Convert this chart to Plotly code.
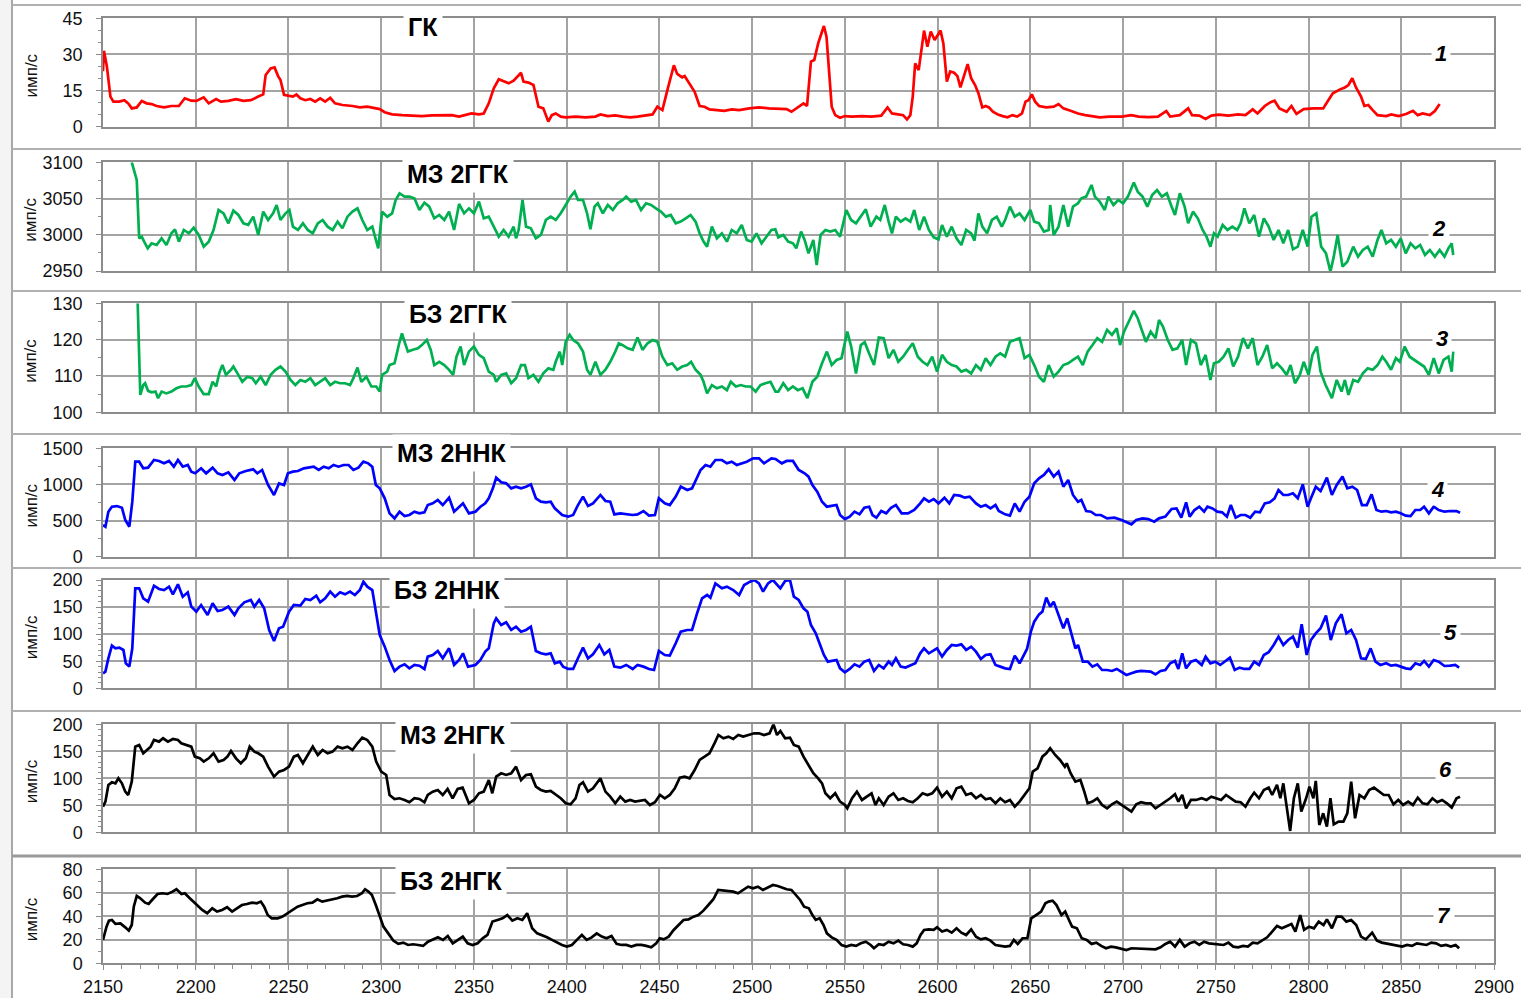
import plotly.graph_objects as go

# ---------------------------------------------------------------- data
# ГК (гамма-каротаж)
GK_DEPTH = [2150.0, 2150.5, 2152.1, 2154.0, 2155.6, 2158.8, 2161.5, 2163.6, 2165.5, 2168.2, 2170.9, 2173.5, 2176.2,
            2178.9, 2182.9, 2186.9, 2190.9, 2194.1, 2197.6, 2200.3, 2204.3, 2207.0, 2211.0, 2213.6, 2217.6, 2221.7,
            2225.7, 2229.7, 2233.7, 2236.4, 2237.7, 2240.4, 2242.5, 2244.4, 2245.7, 2247.6, 2249.7, 2252.4, 2254.3,
            2256.4, 2259.1, 2261.8, 2264.4, 2267.1, 2269.8, 2272.5, 2275.1, 2279.1, 2284.5, 2288.5, 2292.5, 2296.5,
            2299.2, 2301.9, 2305.9, 2311.2, 2316.6, 2321.9, 2327.3, 2332.6, 2338.0, 2342.0, 2344.7, 2348.7, 2352.7,
            2355.3, 2358.0, 2360.7, 2363.4, 2366.0, 2368.7, 2371.4, 2374.1, 2375.4, 2376.7, 2379.4, 2382.1, 2384.8,
            2387.4, 2388.8, 2390.1, 2392.0, 2394.1, 2396.8, 2399.5, 2404.8, 2410.2, 2415.5, 2418.2, 2422.2, 2426.2,
            2430.2, 2434.2, 2438.2, 2442.2, 2446.3, 2448.9, 2451.6, 2454.3, 2457.8, 2459.6, 2462.3, 2463.6, 2466.3,
            2469.0, 2471.7, 2474.3, 2477.0, 2481.0, 2485.0, 2489.0, 2493.0, 2498.4, 2503.7, 2509.1, 2514.7, 2518.6,
            2521.2, 2525.1, 2527.7, 2529.6, 2531.7, 2533.5, 2535.6, 2537.4, 2538.7, 2540.1, 2541.6, 2542.9, 2544.8,
            2547.4, 2550.0, 2553.9, 2559.2, 2564.4, 2569.6, 2573.0, 2575.4, 2578.8, 2581.4, 2583.5, 2585.3, 2586.6,
            2587.9, 2589.8, 2591.4, 2592.7, 2594.5, 2596.3, 2598.4, 2599.7, 2601.6, 2603.1, 2605.0, 2606.8, 2608.9,
            2610.7, 2612.3, 2614.1, 2616.2, 2618.1, 2620.2, 2622.0, 2624.1, 2625.9, 2627.7, 2629.8, 2632.5, 2635.1,
            2637.7, 2640.3, 2642.9, 2645.5, 2647.4, 2649.0, 2650.8, 2652.6, 2654.7, 2658.6, 2662.6, 2665.2, 2667.8,
            2671.7, 2675.7, 2679.6, 2683.5, 2687.4, 2692.7, 2699.2, 2704.5, 2708.4, 2713.6, 2718.8, 2723.3, 2725.4,
            2730.6, 2735.1, 2737.2, 2741.1, 2744.5, 2747.6, 2751.6, 2756.8, 2762.0, 2766.0, 2769.9, 2772.5, 2776.4,
            2779.1, 2781.7, 2784.3, 2788.2, 2790.8, 2793.5, 2797.4, 2802.6, 2807.9, 2810.5, 2813.1, 2817.0, 2819.6,
            2821.5, 2823.6, 2825.6, 2828.3, 2830.1, 2832.2, 2834.6, 2837.2, 2841.9, 2844.6, 2848.6, 2852.6, 2856.3,
            2858.9, 2861.5, 2865.4, 2868.1, 2870.7]
GK = [23, 31.5, 25, 12.5, 10.4, 10.4, 11, 9.7, 7.6, 8, 10.7, 9.7, 9.4,
      8.6, 8, 8.6, 8.6, 11.8, 10.8, 10.7, 12.2, 9.7, 11.5, 10.4, 10.7, 11.4,
      10.7, 11, 12.5, 13.4, 21.5, 24.2, 24.6, 21, 19.4, 13.2, 12.9, 12.5, 13.4,
      11.8, 11, 11.5, 10.4, 11.8, 10.4, 12, 9.7, 9, 8.6, 8, 8.3, 7.6,
      7.3, 6, 5.1, 4.8, 4.6, 4.4, 4.7, 4.6, 4.8, 4.2, 4.8, 5.5, 5.1,
      5.5, 9.7, 15.9, 19.7, 18.7, 18, 19.1, 21.5, 22.4, 18.7, 18.3, 17.3, 8.3,
      7.6, 4.8, 2.1, 4.8, 5.5, 4.2, 3.9, 4.2, 3.9, 4.2, 5.1, 4.4, 4.7,
      4.2, 3.9, 4.2, 4.8, 5.1, 8.3, 6.9, 15.2, 25.5, 21.9, 20.5, 21, 18,
      14.5, 8.6, 8.3, 7.2, 6.9, 6.6, 7.2, 6.9, 7.6, 8, 7.6, 7.3, 7.3,
      6.2, 8.3, 9.7, 8.6, 27, 27.7, 34.6, 38.8, 41.8, 37.4, 20.8, 8.3, 4.8,
      3.7, 4.4, 4.2, 4.4, 4.2, 4.6, 8, 5.5, 5.1, 4.8, 3, 4.8, 12.5,
      26.3, 23.5, 31.9, 39.9, 33.2, 39.5, 36, 37.4, 39.9, 34.6, 18.7, 22.9, 22.4,
      21, 16.3, 20.8, 26, 20.1, 17.3, 13.9, 8, 8.6, 8, 6.2, 5.1, 4.4,
      3.9, 4.8, 4.2, 5.5, 10.4, 11, 13.4, 10.4, 8.6, 8, 8.3, 9.4, 7.6,
      6.6, 5.5, 4.8, 4.4, 3.9, 4.2, 4.2, 4.8, 4.2, 4.0, 4.2, 6.5, 4.2,
      4.8, 7.6, 4.8, 4.6, 3.2, 4.6, 5.0, 4.6, 5.1, 4.8, 7.2, 5.5, 8.6,
      10, 10.8, 7.6, 6.2, 8.6, 5.3, 7.3, 7.6, 7.6, 10.8, 13.9, 15.5, 16.3,
      17.3, 20.1, 16.3, 12.5, 8.6, 9, 6.9, 4.8, 4.4, 5.1, 4.4, 5.3, 6.6,
      4.8, 5.5, 4.8, 6.5, 9.4]

# МЗ 2ГГК
MZ_GGK_DEPTH = [2165.5, 2166.8, 2168.2, 2169.5, 2170.9, 2172.2, 2174.1, 2176.2, 2178.9, 2181.6, 2184.2, 2186.9,
                2188.8, 2190.9, 2193.6, 2196.3, 2198.9, 2201.6, 2204.3, 2207.0, 2209.6, 2212.3, 2215.0, 2217.6,
                2220.3, 2223.0, 2225.7, 2228.3, 2231.0, 2233.7, 2236.4, 2239.0, 2241.7, 2243.6, 2245.7, 2248.4,
                2250.5, 2252.4, 2255.1, 2257.8, 2260.4, 2263.1, 2265.8, 2268.4, 2271.1, 2273.8, 2276.5, 2279.1,
                2281.8, 2284.5, 2287.2, 2289.8, 2292.5, 2295.2, 2297.1, 2298.4, 2300.5, 2303.2, 2305.9, 2307.8,
                2309.9, 2312.6, 2315.2, 2317.9, 2320.6, 2323.3, 2325.9, 2328.6, 2331.3, 2334.0, 2336.6, 2339.3,
                2342.0, 2344.7, 2347.3, 2350.0, 2352.7, 2355.3, 2358.0, 2360.7, 2363.4, 2366.0, 2368.7, 2371.4,
                2372.7, 2374.1, 2376.2, 2378.1, 2380.7, 2383.4, 2386.1, 2388.8, 2391.4, 2394.1, 2396.8, 2399.5,
                2402.1, 2404.3, 2406.1, 2408.8, 2411.0, 2412.8, 2415.0, 2416.8, 2419.5, 2422.2, 2424.9, 2427.5,
                2430.2, 2432.1, 2434.8, 2437.4, 2440.1, 2442.8, 2445.5, 2448.1, 2450.8, 2453.5, 2456.1, 2458.8,
                2461.5, 2464.2, 2466.8, 2469.5, 2471.7, 2473.8, 2475.7, 2478.3, 2481.0, 2483.7, 2486.4, 2489.0,
                2491.7, 2494.4, 2497.1, 2499.7, 2502.4, 2505.1, 2507.8, 2510.4, 2512.5, 2514.1, 2516.8, 2519.4,
                2522.0, 2523.8, 2526.4, 2528.3, 2530.4, 2533.0, 2534.8, 2536.9, 2539.5, 2542.1, 2544.8, 2547.4,
                2550.8, 2553.4, 2556.0, 2558.6, 2561.3, 2563.9, 2567.0, 2569.1, 2571.5, 2573.6, 2575.4, 2577.5,
                2580.1, 2582.7, 2585.3, 2587.4, 2590.1, 2592.7, 2595.3, 2597.9, 2600.5, 2602.4, 2605.0, 2607.6,
                2610.2, 2612.8, 2615.4, 2618.1, 2619.9, 2622.0, 2624.1, 2626.7, 2629.3, 2631.9, 2634.6, 2636.4,
                2639.0, 2641.6, 2644.2, 2646.9, 2650.0, 2652.1, 2654.7, 2657.3, 2659.9, 2660.7, 2662.6, 2665.2,
                2667.8, 2670.4, 2673.0, 2675.7, 2677.5, 2680.1, 2683.0, 2684.8, 2687.4, 2690.1, 2692.1, 2694.8,
                2697.4, 2700.0, 2702.6, 2705.8, 2707.9, 2710.5, 2713.1, 2715.7, 2718.3, 2720.9, 2723.6, 2726.2,
                2728.0, 2730.6, 2733.2, 2735.1, 2737.7, 2740.3, 2742.9, 2745.0, 2747.1, 2749.0, 2751.0, 2753.7,
                2756.3, 2758.9, 2761.5, 2763.4, 2765.4, 2768.1, 2770.7, 2773.3, 2775.9, 2778.5, 2781.2, 2783.8,
                2786.4, 2789.0, 2791.6, 2794.2, 2796.9, 2799.5, 2801.6, 2804.2, 2806.8, 2809.4, 2811.8, 2813.6,
                2815.7, 2818.3, 2820.9, 2824.1, 2826.7, 2829.3, 2831.9, 2834.6, 2837.2, 2839.3, 2841.9, 2844.5,
                2847.1, 2849.7, 2852.4, 2855.0, 2857.6, 2860.2, 2862.8, 2865.4, 2868.1, 2870.7, 2873.3, 2875.4,
                2877.2, 2878.0]
MZ_GGK = [3100, 3088.5, 3075.6, 2995.1, 2997.4, 2990.5, 2981.3, 2988.2, 2985.9, 2995.1, 2985.9, 3002.0,
          3007.5, 2990.5, 3006.6, 3002.0, 3009.8, 2999.7, 2983.6, 2990.5, 3006.6, 3034.2, 3029.6, 3015.8,
          3033.3, 3027.3, 3015.8, 3013.5, 3025.0, 2999.7, 3031.9, 3020.4, 3029.6, 3041.1, 3020.4, 3029.6,
          3034.2, 3011.2, 3006.6, 3015.8, 3006.6, 3002.0, 3015.8, 3020.4, 3011.2, 3006.6, 3018.1, 3008.9,
          3025.0, 3031.9, 3036.5, 3020.4, 3006.6, 3011.2, 2992.8, 2981.3, 3031.9, 3025.0, 3029.6, 3048.0,
          3057.2, 3052.6, 3052.6, 3050.3, 3034.2, 3044.3, 3038.8, 3022.7, 3027.3, 3020.4, 3031.9, 3006.6,
          3042.5, 3029.6, 3036.5, 3029.6, 3045.7, 3022.7, 3025.0, 3011.2, 2997.4, 3006.6, 2997.4, 3011.2,
          2995.1, 3006.6, 3048.0, 3011.2, 3008.9, 2995.1, 2999.7, 3020.4, 3025.0, 3020.4, 3029.6, 3041.1,
          3052.6, 3059.5, 3048.0, 3048.0, 3029.6, 3007.5, 3038.8, 3043.4, 3029.6, 3041.1, 3034.2, 3043.4,
          3048.0, 3052.6, 3045.7, 3048.0, 3034.2, 3043.4, 3041.1, 3036.5, 3031.9, 3025.0, 3027.3, 3015.8,
          3018.1, 3022.7, 3027.3, 3018.1, 3002.0, 2990.5, 2983.6, 3011.2, 2995.1, 3002.0, 2990.5, 3006.6,
          3002.0, 3013.5, 2992.8, 2990.5, 3002.0, 2988.2, 2997.4, 3006.6, 3007.5, 2996.5, 2999.7, 2990.5,
          2988.2, 2981.3, 3004.3, 2992.8, 2974.4, 2992.8, 2958.3, 2999.7, 3006.6, 3004.3, 3006.6, 2997.4,
          3034.2, 3020.4, 3015.8, 3025.0, 3035.1, 3011.2, 3025.0, 3020.4, 3041.1, 3018.1, 3002.0, 3025.0,
          3018.1, 3022.7, 3018.1, 3034.2, 3006.6, 3025.0, 3006.6, 2996.5, 2993.7, 3013.5, 2997.4, 3011.2,
          2995.1, 2985.9, 3006.6, 3002.0, 2991.9, 3029.6, 3011.2, 3002.0, 3020.4, 3025.0, 3011.2, 3020.4,
          3038.8, 3025.0, 3029.6, 3020.4, 3034.2, 3018.1, 3015.8, 3004.3, 3006.6, 3041.1, 2999.7, 3011.2,
          3041.1, 3011.2, 3038.8, 3043.4, 3050.3, 3052.6, 3068.7, 3052.6, 3045.7, 3034.2, 3052.6, 3041.1,
          3048.0, 3043.4, 3052.6, 3072.0, 3059.5, 3052.6, 3038.8, 3054.9, 3061.8, 3052.6, 3057.2, 3038.8,
          3027.3, 3057.2, 3038.8, 3015.8, 3031.9, 3022.7, 3006.6, 2997.4, 2983.6, 3002.0, 2997.4, 3013.5,
          3006.6, 3011.2, 3006.6, 3015.8, 3036.5, 3015.8, 3027.3, 2997.4, 3022.7, 3011.2, 2992.8, 3006.6,
          2988.2, 3006.6, 2979.9, 2983.6, 3006.6, 2983.6, 3025.0, 3029.6, 2983.6, 2974.4, 2949.1, 2969.8,
          2999.7, 2956.0, 2962.9, 2983.6, 2969.8, 2979.0, 2983.6, 2969.8, 2992.8, 3006.6, 2988.2, 2992.8,
          2983.6, 2995.1, 2974.4, 2988.2, 2981.3, 2985.9, 2972.1, 2979.0, 2969.8, 2979.0, 2969.8, 2981.3,
          2988.2, 2972.1]

# БЗ 2ГГК
BZ_GGK_DEPTH = [2168.7, 2170.1, 2171.7, 2172.7, 2174.3, 2176.2, 2178.3, 2179.7, 2181.6, 2184.2, 2186.9, 2189.6,
                2192.2, 2194.9, 2197.6, 2199.5, 2201.6, 2204.3, 2207.0, 2209.1, 2211.0, 2212.8, 2214.4, 2216.3,
                2219.0, 2220.3, 2222.5, 2225.1, 2227.8, 2230.5, 2232.4, 2235.0, 2237.7, 2240.4, 2243.0, 2245.7,
                2248.4, 2251.1, 2253.7, 2256.4, 2259.1, 2261.8, 2264.4, 2267.1, 2269.8, 2272.5, 2275.1, 2277.8,
                2280.5, 2283.2, 2285.0, 2287.2, 2289.3, 2292.0, 2294.7, 2297.3, 2299.2, 2300.5, 2303.2, 2304.5,
                2307.2, 2309.9, 2311.2, 2312.6, 2314.4, 2317.1, 2319.8, 2321.9, 2324.6, 2326.7, 2328.6, 2331.3,
                2334.0, 2336.6, 2338.8, 2340.6, 2342.8, 2344.7, 2347.3, 2350.0, 2352.7, 2355.3, 2358.0, 2360.7,
                2362.0, 2364.7, 2367.4, 2370.1, 2372.7, 2375.4, 2377.5, 2379.4, 2382.1, 2384.8, 2387.4, 2390.1,
                2392.8, 2394.1, 2396.3, 2397.6, 2399.5, 2401.6, 2403.5, 2406.1, 2408.8, 2411.0, 2412.8, 2415.5,
                2418.2, 2420.9, 2423.5, 2426.2, 2428.1, 2430.2, 2432.9, 2435.6, 2438.2, 2440.9, 2443.6, 2446.3,
                2448.9, 2451.6, 2454.3, 2456.9, 2459.6, 2462.3, 2465.0, 2467.1, 2469.5, 2472.2, 2473.8, 2475.7,
                2478.3, 2481.0, 2483.7, 2486.4, 2488.5, 2491.2, 2493.9, 2496.5, 2499.2, 2501.9, 2504.5, 2507.2,
                2509.9, 2512.6, 2514.1, 2516.8, 2519.4, 2522.0, 2524.6, 2527.2, 2529.8, 2532.5, 2535.1, 2537.7,
                2540.3, 2542.9, 2545.5, 2548.2, 2551.3, 2553.4, 2556.0, 2558.6, 2560.7, 2563.1, 2565.7, 2568.3,
                2570.9, 2573.6, 2576.2, 2578.8, 2581.4, 2584.0, 2586.6, 2589.3, 2591.9, 2594.5, 2597.1, 2599.7,
                2602.4, 2605.0, 2607.6, 2610.2, 2612.8, 2615.4, 2618.1, 2620.7, 2623.3, 2625.9, 2628.5, 2631.2,
                2633.8, 2636.4, 2639.0, 2641.6, 2644.2, 2646.9, 2649.5, 2652.1, 2654.7, 2657.3, 2659.9, 2662.6,
                2665.2, 2667.8, 2670.4, 2673.0, 2675.7, 2678.3, 2680.9, 2683.5, 2686.1, 2688.7, 2691.4, 2694.0,
                2696.6, 2698.4, 2700.5, 2703.1, 2705.8, 2707.9, 2710.5, 2712.3, 2714.9, 2717.5, 2719.4, 2721.5,
                2724.1, 2726.7, 2729.3, 2731.9, 2734.0, 2736.6, 2739.3, 2741.9, 2744.5, 2747.1, 2749.0, 2751.6,
                2754.2, 2756.8, 2759.4, 2762.0, 2764.7, 2767.3, 2769.9, 2772.5, 2775.1, 2777.7, 2780.4, 2783.0,
                2785.6, 2788.2, 2790.3, 2792.7, 2795.3, 2797.4, 2800.0, 2802.1, 2804.5, 2806.5, 2809.2, 2812.6,
                2815.2, 2817.8, 2819.6, 2821.5, 2824.1, 2826.7, 2829.3, 2831.9, 2834.6, 2837.2, 2839.8, 2841.9,
                2844.5, 2847.1, 2849.2, 2851.8, 2854.5, 2857.1, 2859.7, 2862.3, 2864.9, 2867.5, 2870.2, 2872.8,
                2875.4, 2877.2, 2878.0]
BZ_GGK = [130, 104.8, 107.5, 108.0, 105.9, 105.5, 105.7, 103.9, 105.7, 105.2, 105.7, 106.6,
          107.1, 107.1, 107.5, 109.4, 107.1, 105.0, 105.0, 108.4, 107.1, 111.0, 113.0, 110.3,
          111.7, 112.6, 110.7, 108.4, 109.8, 109.4, 108.0, 109.8, 107.5, 110.3, 111.7, 112.6,
          111.2, 108.9, 107.5, 108.9, 108.4, 109.4, 107.5, 108.4, 109.4, 107.5, 108.4, 108.0,
          108.0, 107.5, 109.4, 112.3, 108.4, 109.8, 107.1, 107.1, 105.7, 110.3, 111.2, 113.0,
          113.5, 119.4, 121.7, 119.4, 116.7, 117.2, 117.6, 118.5, 119.9, 117.2, 113.0, 113.9,
          113.0, 111.7, 110.3, 115.3, 118.1, 113.0, 116.7, 118.1, 115.8, 114.9, 111.2, 110.3,
          108.4, 110.3, 110.7, 108.0, 109.4, 113.0, 113.0, 109.4, 110.3, 108.4, 110.7, 112.1,
          111.7, 113.9, 116.7, 113.0, 119.4, 121.3, 119.9, 119.0, 116.7, 111.7, 110.3, 113.9,
          110.3, 111.7, 113.9, 116.7, 119.0, 118.5, 117.6, 117.2, 120.6, 117.2, 119.0, 119.9,
          119.4, 115.3, 113.0, 113.5, 111.7, 112.6, 113.0, 113.9, 111.7, 110.3, 108.4, 105.2,
          107.5, 106.6, 107.1, 106.1, 108.4, 107.1, 107.5, 107.1, 107.1, 105.7, 107.5, 108.0,
          108.4, 105.7, 105.7, 108.0, 106.1, 107.1, 106.1, 106.6, 103.9, 108.4, 109.8, 113.5,
          116.7, 113.0, 114.4, 114.9, 122.2, 118.1, 110.7, 118.5, 119.3, 116.2, 113.0, 120.6,
          120.4, 114.9, 117.2, 113.9, 115.3, 117.2, 119.0, 115.3, 113.9, 113.0, 115.3, 111.2,
          115.8, 113.9, 113.0, 112.6, 111.2, 111.7, 110.7, 113.0, 111.7, 114.9, 113.0, 115.3,
          116.2, 115.3, 119.4, 119.9, 120.4, 114.9, 115.8, 113.0, 109.8, 108.4, 113.0, 109.8,
          111.2, 113.0, 113.5, 114.4, 115.3, 113.0, 116.7, 118.5, 120.4, 119.4, 122.7, 121.3,
          123.1, 118.5, 122.2, 125.0, 127.9, 125.9, 122.2, 119.4, 122.2, 120.4, 125.4, 123.6,
          119.9, 117.2, 117.6, 119.9, 113.0, 119.9, 119.0, 113.0, 115.8, 108.9, 113.5, 113.9,
          115.3, 117.6, 112.6, 115.3, 120.4, 117.6, 120.4, 113.0, 115.3, 118.5, 112.1, 113.5,
          112.1, 110.3, 113.0, 108.0, 110.3, 113.9, 110.3, 115.8, 118.1, 111.2, 107.5, 103.9,
          108.9, 105.7, 108.9, 104.8, 108.9, 108.4, 110.7, 112.1, 111.7, 113.0, 115.3, 113.9,
          111.7, 114.9, 113.9, 118.1, 115.3, 114.4, 113.5, 112.6, 110.3, 114.9, 110.7, 114.4,
          115.3, 111.2, 116.7]

# МЗ 2ННК
MZ_NNK_DEPTH = [2150.0, 2151.3, 2152.9, 2154.8, 2157.5, 2160.2, 2162.0, 2164.2, 2165.8, 2167.4, 2169.5, 2171.7,
                2174.3, 2177.5, 2180.2, 2182.9, 2185.6, 2188.2, 2190.4, 2193.0, 2195.7, 2197.6, 2199.7, 2202.9,
                2205.6, 2209.1, 2211.8, 2214.4, 2217.6, 2220.9, 2223.5, 2227.0, 2231.0, 2233.2, 2235.8, 2239.0,
                2242.2, 2244.9, 2247.6, 2249.7, 2252.4, 2255.1, 2258.3, 2261.0, 2263.6, 2266.3, 2269.0, 2271.7,
                2274.3, 2277.0, 2279.7, 2282.4, 2285.0, 2287.7, 2290.4, 2293.0, 2295.2, 2297.1, 2299.2, 2301.9,
                2304.5, 2307.2, 2309.9, 2312.6, 2315.2, 2317.9, 2320.6, 2323.3, 2325.1, 2327.8, 2330.5, 2333.2,
                2336.6, 2339.3, 2342.0, 2344.1, 2347.3, 2350.8, 2353.5, 2356.1, 2358.0, 2360.2, 2362.0, 2364.7,
                2367.4, 2370.1, 2372.7, 2375.4, 2378.1, 2380.7, 2383.4, 2386.1, 2388.8, 2391.4, 2393.6, 2395.5,
                2397.6, 2400.8, 2403.5, 2406.1, 2408.8, 2411.5, 2414.2, 2418.2, 2420.9, 2423.5, 2425.7, 2428.9,
                2432.1, 2435.6, 2438.2, 2441.4, 2444.4, 2447.6, 2449.7, 2452.9, 2455.6, 2458.8, 2461.5, 2465.0,
                2467.6, 2470.3, 2472.2, 2474.9, 2477.5, 2480.2, 2483.7, 2486.4, 2489.0, 2491.7, 2494.4, 2497.1,
                2500.5, 2503.7, 2506.4, 2510.4, 2512.6, 2516.0, 2518.6, 2522.0, 2525.1, 2528.3, 2530.4, 2532.5,
                2535.1, 2537.7, 2540.3, 2542.9, 2545.5, 2547.4, 2550.0, 2552.6, 2555.2, 2557.9, 2560.5, 2563.1,
                2564.9, 2567.0, 2569.6, 2572.3, 2574.9, 2577.5, 2580.6, 2584.0, 2587.4, 2590.6, 2592.7, 2595.3,
                2597.9, 2600.5, 2603.7, 2606.3, 2608.9, 2612.0, 2614.7, 2617.3, 2620.7, 2623.3, 2625.9, 2628.5,
                2631.2, 2633.0, 2636.4, 2639.0, 2641.6, 2644.2, 2646.9, 2649.5, 2652.1, 2654.7, 2657.3, 2659.9,
                2662.6, 2665.2, 2667.8, 2670.4, 2673.0, 2675.7, 2677.5, 2680.1, 2682.7, 2685.3, 2688.0, 2691.4,
                2695.3, 2699.2, 2701.8, 2704.5, 2707.1, 2710.5, 2713.6, 2716.8, 2719.4, 2722.8, 2726.2, 2728.8,
                2731.4, 2734.0, 2735.9, 2738.5, 2741.1, 2743.7, 2745.5, 2748.2, 2750.8, 2753.4, 2756.0, 2758.1,
                2760.7, 2763.4, 2766.0, 2768.6, 2771.2, 2773.8, 2776.4, 2779.1, 2781.7, 2783.8, 2786.4, 2789.0,
                2791.6, 2794.2, 2796.9, 2799.5, 2801.3, 2803.9, 2806.5, 2809.9, 2812.6, 2815.2, 2818.3, 2820.9,
                2823.6, 2826.2, 2828.8, 2831.4, 2834.0, 2836.6, 2839.3, 2841.9, 2844.5, 2847.1, 2849.7, 2852.4,
                2855.0, 2857.6, 2860.2, 2862.3, 2864.9, 2867.5, 2870.2, 2873.3, 2876.4, 2879.8, 2881.7]
MZ_NNK = [438, 415, 623, 692, 701, 678, 508, 415, 761, 1315, 1315, 1223,
          1232, 1338, 1325, 1292, 1325, 1246, 1338, 1246, 1269, 1177, 1154, 1223,
          1154, 1232, 1154, 1131, 1168, 1061, 1154, 1186, 1209, 1154, 1200, 992,
          854, 1015, 992, 1154, 1177, 1186, 1223, 1232, 1246, 1200, 1246, 1223,
          1269, 1246, 1269, 1269, 1200, 1232, 1315, 1292, 1246, 992, 946, 808,
          600, 531, 623, 563, 577, 623, 600, 614, 715, 738, 785, 715,
          817, 623, 692, 738, 600, 623, 692, 738, 808, 946, 1094, 1029,
          1015, 946, 969, 946, 969, 1001, 808, 761, 752, 761, 669, 623,
          577, 554, 577, 715, 831, 701, 738, 854, 771, 761, 586, 600,
          586, 577, 586, 632, 568, 577, 808, 738, 715, 831, 969, 923,
          946, 1108, 1200, 1269, 1246, 1338, 1338, 1292, 1315, 1269, 1292, 1315,
          1361, 1361, 1292, 1361, 1352, 1292, 1325, 1325, 1200, 1154, 1108, 992,
          900, 761, 692, 706, 715, 577, 521, 554, 623, 586, 678, 692,
          577, 540, 632, 600, 678, 715, 600, 600, 646, 738, 808, 761,
          798, 738, 817, 738, 854, 845, 817, 831, 738, 692, 715, 669,
          715, 632, 586, 568, 738, 623, 761, 831, 1015, 1085, 1131, 1209,
          1108, 1177, 969, 1061, 854, 761, 785, 632, 623, 577, 577, 531,
          540, 508, 475, 448, 508, 531, 521, 485, 531, 554, 660, 669,
          540, 752, 554, 646, 692, 623, 692, 669, 623, 614, 554, 715,
          540, 577, 577, 540, 623, 614, 738, 752, 808, 923, 854, 854,
          877, 808, 1001, 692, 808, 969, 909, 1094, 854, 992, 1108, 946,
          969, 923, 715, 715, 863, 646, 623, 632, 614, 623, 600, 568,
          563, 646, 646, 692, 600, 692, 646, 623, 632, 632, 609]

# БЗ 2ННК
BZ_NNK_DEPTH = [2150.0, 2151.3, 2152.9, 2154.8, 2156.7, 2158.8, 2161.0, 2162.3, 2164.2, 2165.8, 2167.4, 2169.5,
                2171.7, 2174.3, 2177.5, 2180.2, 2182.9, 2185.6, 2187.7, 2190.4, 2193.0, 2195.7, 2197.6, 2200.3,
                2202.9, 2206.4, 2209.1, 2211.8, 2214.4, 2217.6, 2220.9, 2223.0, 2226.2, 2229.7, 2231.6, 2234.2,
                2236.9, 2239.6, 2242.2, 2244.9, 2247.1, 2250.3, 2252.9, 2256.4, 2259.1, 2261.8, 2265.0, 2267.1,
                2269.8, 2272.5, 2275.1, 2277.8, 2280.5, 2283.2, 2285.8, 2288.5, 2290.4, 2292.5, 2295.2, 2297.1,
                2299.2, 2301.9, 2304.5, 2307.2, 2309.9, 2312.6, 2315.2, 2317.9, 2320.6, 2323.3, 2325.1, 2327.8,
                2330.5, 2333.2, 2336.6, 2339.3, 2342.0, 2344.1, 2346.8, 2350.8, 2353.5, 2356.1, 2358.0, 2360.7,
                2362.0, 2364.7, 2367.4, 2370.1, 2372.7, 2375.4, 2378.1, 2380.7, 2383.4, 2386.1, 2388.8, 2391.4,
                2393.6, 2396.3, 2398.1, 2400.8, 2403.5, 2406.1, 2408.8, 2411.5, 2414.2, 2417.6, 2420.3, 2423.0,
                2425.7, 2428.9, 2432.1, 2435.6, 2438.2, 2441.4, 2444.4, 2447.1, 2449.7, 2452.9, 2455.6, 2458.8,
                2461.5, 2465.0, 2467.6, 2470.3, 2473.0, 2475.7, 2477.5, 2480.2, 2483.7, 2486.4, 2489.8, 2493.0,
                2495.7, 2498.9, 2501.1, 2503.7, 2505.9, 2508.6, 2511.2, 2515.2, 2517.8, 2520.4, 2522.5, 2525.1,
                2527.7, 2529.8, 2531.7, 2534.3, 2536.9, 2538.7, 2540.8, 2543.5, 2545.5, 2547.4, 2550.0, 2552.6,
                2555.2, 2557.9, 2560.5, 2563.1, 2565.7, 2568.3, 2570.9, 2573.6, 2575.4, 2577.5, 2580.1, 2582.7,
                2585.3, 2588.0, 2590.6, 2592.7, 2595.3, 2597.9, 2599.7, 2602.4, 2605.0, 2607.6, 2610.2, 2612.8,
                2615.4, 2618.1, 2620.7, 2623.3, 2625.9, 2628.5, 2631.2, 2633.8, 2636.4, 2639.0, 2641.6, 2644.2,
                2646.9, 2648.2, 2650.3, 2652.1, 2654.7, 2656.5, 2658.6, 2660.7, 2662.6, 2665.2, 2667.8, 2669.9,
                2671.7, 2674.3, 2675.7, 2678.3, 2680.9, 2683.5, 2686.1, 2688.7, 2691.4, 2694.0, 2696.6, 2699.2,
                2701.8, 2704.5, 2707.1, 2709.7, 2712.3, 2714.9, 2717.5, 2720.2, 2722.8, 2725.4, 2728.0, 2729.8,
                2731.9, 2734.0, 2736.6, 2739.3, 2742.4, 2744.5, 2747.1, 2749.7, 2752.4, 2755.0, 2757.6, 2760.2,
                2762.8, 2765.4, 2768.1, 2770.7, 2773.3, 2775.9, 2778.5, 2781.2, 2783.8, 2786.4, 2789.0, 2791.6,
                2794.2, 2796.3, 2799.0, 2801.3, 2803.9, 2806.5, 2809.4, 2812.0, 2814.7, 2817.8, 2820.4, 2823.0,
                2825.6, 2828.3, 2830.9, 2833.5, 2836.1, 2838.7, 2841.9, 2844.5, 2847.1, 2849.7, 2852.4, 2855.0,
                2857.6, 2860.2, 2862.3, 2864.9, 2867.5, 2870.2, 2873.3, 2876.4, 2879.1, 2881.2]
BZ_NNK = [27.7, 30.8, 55.4, 78.8, 73.8, 75.1, 70.8, 46.2, 40.0, 73.8, 184.6, 184.6,
          166.2, 160.0, 189.5, 183.4, 181.5, 187.7, 173.5, 192.0, 169.2, 177.2, 150.8, 141.5,
          153.8, 135.4, 156.9, 142.8, 144.6, 150.8, 135.4, 147.7, 158.8, 163.1, 150.8, 163.1,
          147.7, 107.7, 87.4, 110.8, 113.8, 141.5, 153.8, 152.6, 164.9, 163.1, 171.1, 158.8,
          166.2, 178.5, 169.2, 177.2, 173.5, 178.5, 172.3, 181.5, 196.9, 187.7, 181.5, 141.5,
          98.5, 76.9, 52.3, 32.0, 40.0, 44.3, 36.9, 43.1, 41.8, 35.7, 58.5, 61.5,
          68.9, 55.4, 73.8, 43.1, 52.3, 64.6, 40.0, 43.1, 52.3, 67.7, 73.8, 120.0,
          129.2, 116.9, 121.8, 107.7, 113.8, 104.6, 107.7, 113.8, 68.9, 64.6, 62.8, 64.6,
          46.2, 49.2, 40.0, 35.7, 35.7, 55.4, 75.1, 55.4, 62.8, 80.0, 62.8, 70.8,
          40.0, 38.2, 43.1, 35.7, 43.1, 40.0, 35.7, 33.8, 68.9, 61.5, 60.3, 83.1,
          104.6, 107.7, 107.7, 138.5, 166.2, 172.3, 167.4, 193.8, 184.6, 187.7, 181.5, 172.3,
          190.8, 196.9, 200, 193.8, 178.5, 193.8, 200, 184.6, 198.2, 200, 169.2, 163.1,
          147.7, 141.5, 116.9, 101.5, 76.9, 61.5, 49.2, 50.5, 52.3, 36.9, 29.5, 35.7,
          44.3, 40.0, 49.2, 52.3, 32.0, 43.1, 36.9, 49.2, 43.1, 55.4, 40.0, 38.2,
          41.8, 46.2, 64.6, 73.8, 64.6, 70.8, 73.8, 58.5, 70.8, 80.0, 78.8, 81.2,
          70.8, 76.9, 67.7, 54.2, 61.5, 62.8, 43.1, 40.0, 36.9, 35.7, 60.3, 46.2,
          64.6, 72.6, 104.6, 123.1, 136.6, 141.5, 167.4, 150.8, 160.0, 135.4, 110.8, 129.2,
          104.6, 73.8, 80.0, 49.2, 49.2, 40.0, 44.3, 33.8, 33.8, 32.0, 35.7, 30.8,
          24.6, 27.7, 30.8, 32.0, 30.8, 30.8, 25.8, 32.0, 33.8, 46.2, 50.5, 35.7,
          64.6, 36.9, 49.2, 52.3, 43.1, 58.5, 46.2, 49.2, 43.1, 49.2, 56.6, 33.8,
          38.2, 35.7, 35.7, 49.2, 43.1, 61.5, 66.5, 80.0, 95.4, 80.0, 89.2, 95.4,
          75.1, 118.2, 61.5, 89.2, 101.5, 110.8, 134.2, 89.2, 120.0, 136.6, 101.5, 107.7,
          89.2, 55.4, 54.2, 73.8, 49.2, 43.1, 46.2, 41.8, 43.1, 40.0, 36.9, 35.7,
          46.2, 43.1, 50.5, 40.0, 52.3, 49.2, 41.2, 41.8, 43.1, 38.2]

# МЗ 2НГК
MZ_NGK_DEPTH = [2150.0, 2151.3, 2152.9, 2154.8, 2156.7, 2158.3, 2160.2, 2162.0, 2163.6, 2165.5, 2167.4, 2169.5,
                2171.7, 2173.5, 2175.7, 2177.5, 2180.2, 2182.4, 2185.0, 2187.7, 2190.4, 2192.2, 2194.9, 2197.6,
                2199.5, 2202.2, 2204.3, 2207.0, 2209.6, 2212.3, 2215.0, 2217.1, 2219.0, 2221.7, 2224.3, 2227.0,
                2229.1, 2231.6, 2233.7, 2236.4, 2239.0, 2242.2, 2244.9, 2247.6, 2250.3, 2252.9, 2255.1, 2257.8,
                2260.4, 2263.1, 2265.8, 2268.4, 2271.1, 2273.8, 2276.5, 2279.1, 2281.8, 2284.5, 2287.2, 2289.8,
                2292.5, 2295.2, 2297.3, 2300.0, 2302.7, 2304.5, 2307.2, 2309.9, 2312.6, 2315.2, 2317.9, 2320.6,
                2323.3, 2325.1, 2327.8, 2330.5, 2333.2, 2335.8, 2338.5, 2341.2, 2343.9, 2347.3, 2350.0, 2352.7,
                2355.3, 2358.0, 2359.9, 2362.0, 2364.7, 2367.4, 2370.1, 2372.7, 2375.4, 2378.1, 2380.7, 2383.4,
                2386.1, 2388.8, 2391.4, 2394.1, 2396.8, 2399.5, 2402.1, 2404.8, 2406.9, 2408.8, 2411.5, 2414.2,
                2418.2, 2420.9, 2423.5, 2426.2, 2428.9, 2431.6, 2434.2, 2436.9, 2439.6, 2442.2, 2444.9, 2447.6,
                2450.3, 2452.9, 2455.6, 2458.3, 2461.0, 2463.6, 2466.3, 2469.0, 2471.7, 2474.3, 2477.0, 2479.7,
                2481.8, 2484.5, 2487.2, 2489.8, 2492.5, 2495.2, 2498.4, 2501.1, 2503.7, 2506.4, 2509.4, 2511.5,
                2513.4, 2515.2, 2517.8, 2520.4, 2522.5, 2525.1, 2527.7, 2530.4, 2533.0, 2535.6, 2537.7, 2539.5,
                2542.1, 2544.8, 2547.4, 2550.0, 2551.3, 2553.9, 2556.5, 2559.2, 2561.8, 2564.4, 2566.5, 2568.3,
                2570.9, 2573.6, 2576.2, 2578.8, 2581.4, 2584.0, 2586.6, 2589.3, 2591.9, 2594.5, 2597.1, 2599.7,
                2602.4, 2605.0, 2607.6, 2610.2, 2612.8, 2615.4, 2618.1, 2620.7, 2623.3, 2625.9, 2628.5, 2631.2,
                2633.8, 2636.4, 2639.0, 2641.6, 2644.2, 2646.9, 2649.5, 2651.3, 2653.9, 2656.5, 2658.6, 2660.7,
                2663.4, 2666.0, 2668.6, 2669.6, 2671.7, 2674.3, 2677.0, 2679.1, 2680.9, 2683.5, 2686.1, 2688.7,
                2691.4, 2694.0, 2696.6, 2699.2, 2701.8, 2704.5, 2707.1, 2709.7, 2712.3, 2714.9, 2717.5, 2720.2,
                2722.8, 2725.4, 2728.0, 2729.8, 2731.9, 2734.0, 2736.6, 2739.3, 2742.4, 2745.0, 2747.6, 2750.3,
                2752.9, 2755.5, 2758.1, 2760.7, 2763.4, 2766.0, 2768.6, 2770.7, 2773.3, 2775.9, 2778.5, 2780.4,
                2783.0, 2784.8, 2786.4, 2788.2, 2790.1, 2792.1, 2794.2, 2796.1, 2798.7, 2800.5, 2802.6, 2803.9,
                2805.8, 2807.9, 2809.9, 2811.8, 2813.6, 2816.2, 2818.8, 2820.9, 2823.0, 2825.1, 2827.5, 2830.1,
                2832.7, 2835.3, 2837.9, 2840.6, 2843.2, 2845.8, 2848.4, 2851.0, 2853.7, 2856.3, 2858.9, 2861.5,
                2864.1, 2866.8, 2869.4, 2872.0, 2874.6, 2877.2, 2879.8, 2881.7]
MZ_NGK = [47.5, 56.8, 87.7, 92.6, 90.7, 100.0, 90.7, 75.3, 69.1, 93.8, 158.6, 161.7,
          146.3, 152.5, 158.6, 171.0, 167.9, 174.1, 167.9, 172.8, 171.0, 164.8, 161.7, 158.6,
          140.1, 137.0, 130.9, 137.0, 146.3, 130.9, 134.0, 140.1, 150.6, 137.0, 127.8, 137.0,
          158.6, 149.4, 146.3, 140.1, 121.6, 103.1, 112.3, 115.4, 121.6, 140.1, 143.2, 127.8,
          143.2, 158.6, 143.2, 152.5, 146.3, 149.4, 158.6, 155.6, 158.6, 152.5, 164.8, 175.3,
          171.0, 158.6, 130.9, 112.3, 106.2, 69.1, 61.7, 63.0, 59.9, 55.6, 63.0, 61.7,
          55.6, 69.1, 75.3, 78.4, 69.1, 80.2, 63.0, 80.2, 82.7, 53.7, 59.9, 72.2,
          75.3, 96.9, 72.2, 103.1, 109.3, 106.2, 109.3, 121.6, 96.9, 106.2, 107.4, 84.6,
          78.4, 75.3, 76.5, 69.1, 63.0, 53.7, 51.9, 63.0, 87.7, 92.6, 75.3, 81.5,
          100.0, 75.3, 66.0, 53.7, 66.0, 56.8, 59.9, 56.8, 58.0, 59.9, 50.6, 55.6,
          69.1, 63.0, 69.1, 81.5, 101.2, 103.1, 100.0, 115.4, 134.0, 140.1, 146.3, 164.8,
          180.2, 174.1, 177.2, 172.8, 180.2, 177.2, 180.2, 183.3, 183.3, 180.2, 183.3, 200,
          180.2, 187.7, 174.1, 175.3, 161.7, 158.6, 140.1, 124.7, 109.3, 100.0, 90.7, 72.2,
          63.0, 72.2, 56.8, 50.6, 44.4, 63.0, 75.3, 59.9, 66.0, 72.2, 50.6, 63.0,
          50.6, 66.0, 72.2, 59.9, 63.0, 58.0, 55.6, 63.0, 72.2, 69.1, 72.2, 82.7,
          66.0, 75.3, 63.0, 81.5, 84.6, 69.1, 72.2, 63.0, 69.1, 61.1, 63.0, 53.7,
          63.0, 55.6, 59.9, 47.5, 56.8, 69.1, 81.5, 112.3, 118.5, 140.1, 146.3, 155.6,
          143.2, 134.0, 121.6, 127.8, 109.3, 93.8, 96.9, 75.3, 53.7, 56.8, 63.0, 50.6,
          44.4, 51.9, 56.8, 50.6, 44.4, 38.3, 51.9, 55.6, 53.7, 53.7, 44.4, 50.6,
          55.6, 63.0, 70.4, 56.8, 69.1, 44.4, 59.9, 59.9, 63.0, 59.9, 66.0, 63.0,
          59.9, 69.1, 63.0, 56.8, 55.6, 47.5, 63.0, 73.5, 63.0, 78.4, 82.7, 69.1,
          87.7, 63.0, 90.7, 50.6, 2.5, 63.0, 90.7, 38.3, 63.0, 84.6, 63.0, 95.1,
          13.6, 35.2, 10.5, 63.0, 14.8, 19.8, 19.8, 35.2, 93.8, 25.9, 69.1, 63.0,
          78.4, 82.7, 75.3, 69.1, 69.1, 51.9, 59.9, 50.6, 56.8, 50.6, 64.2, 53.7,
          51.9, 63.0, 55.6, 59.9, 53.7, 45.7, 63.0, 66.0]

# БЗ 2НГК
BZ_NGK_DEPTH = [2150.0, 2151.9, 2153.2, 2154.8, 2156.7, 2159.4, 2162.0, 2163.9, 2165.5, 2166.6, 2168.2, 2170.1,
                2172.7, 2174.6, 2176.8, 2179.4, 2182.1, 2184.8, 2187.5, 2189.6, 2192.3, 2194.1, 2196.8, 2199.5,
                2201.4, 2203.5, 2206.2, 2208.9, 2211.5, 2214.2, 2216.9, 2219.6, 2222.2, 2224.9, 2227.6, 2230.3,
                2232.9, 2235.1, 2236.9, 2238.8, 2241.0, 2244.2, 2246.8, 2249.5, 2252.2, 2254.9, 2257.5, 2260.2,
                2262.9, 2265.6, 2268.2, 2270.9, 2273.6, 2276.3, 2278.9, 2281.6, 2284.3, 2287.0, 2289.6, 2291.3,
                2293.1, 2295.0, 2297.1, 2299.3, 2301.2, 2303.8, 2306.5, 2309.2, 2311.9, 2314.5, 2317.2, 2319.9,
                2322.6, 2325.2, 2327.9, 2330.6, 2333.3, 2335.9, 2338.6, 2341.3, 2344.0, 2346.6, 2349.3, 2352.0,
                2354.7, 2357.3, 2360.0, 2362.7, 2365.4, 2368.0, 2370.7, 2373.4, 2376.1, 2378.7, 2381.4, 2384.1,
                2386.8, 2389.4, 2392.1, 2394.8, 2397.5, 2400.1, 2402.8, 2405.5, 2408.2, 2410.8, 2413.5, 2416.2,
                2418.9, 2421.5, 2424.2, 2426.9, 2429.6, 2432.2, 2434.9, 2437.6, 2440.3, 2442.9, 2445.6, 2448.3,
                2450.2, 2452.3, 2455.0, 2457.7, 2460.3, 2463.0, 2465.7, 2468.4, 2471.0, 2473.7, 2476.4, 2479.1,
                2481.7, 2484.4, 2487.1, 2489.8, 2492.4, 2495.1, 2497.8, 2500.5, 2503.1, 2505.8, 2508.5, 2511.2,
                2513.8, 2515.4, 2518.6, 2521.2, 2523.3, 2525.9, 2528.0, 2530.6, 2532.5, 2534.3, 2536.4, 2538.5,
                2540.3, 2542.9, 2545.5, 2548.2, 2550.8, 2553.4, 2556.0, 2558.6, 2561.3, 2563.9, 2565.7, 2568.3,
                2570.9, 2573.6, 2576.2, 2578.8, 2581.4, 2584.0, 2586.6, 2588.7, 2590.8, 2592.7, 2595.3, 2597.9,
                2599.7, 2602.4, 2605.0, 2607.6, 2610.2, 2612.8, 2615.4, 2618.1, 2620.7, 2623.3, 2625.9, 2628.5,
                2631.2, 2633.8, 2636.4, 2639.0, 2641.1, 2643.2, 2645.8, 2648.4, 2650.5, 2653.1, 2655.8, 2658.1,
                2659.9, 2662.0, 2664.1, 2666.8, 2668.8, 2670.4, 2672.5, 2675.1, 2677.7, 2680.4, 2683.0, 2685.6,
                2688.2, 2690.8, 2693.5, 2696.1, 2698.7, 2701.8, 2704.5, 2707.1, 2709.7, 2712.3, 2714.9, 2717.5,
                2720.2, 2722.8, 2725.4, 2728.0, 2730.6, 2733.2, 2735.9, 2738.5, 2741.1, 2743.7, 2746.3, 2749.0,
                2751.6, 2754.2, 2756.8, 2759.4, 2762.0, 2764.7, 2767.3, 2769.9, 2772.5, 2775.1, 2777.7, 2780.4,
                2783.0, 2785.6, 2788.2, 2790.8, 2792.9, 2795.5, 2797.6, 2800.3, 2802.9, 2805.5, 2808.1, 2809.9,
                2812.6, 2815.2, 2817.8, 2820.4, 2823.0, 2825.7, 2828.3, 2830.9, 2834.3, 2836.9, 2839.5, 2842.7,
                2845.3, 2847.9, 2850.5, 2853.1, 2855.8, 2858.4, 2861.0, 2863.6, 2866.2, 2868.8, 2871.5, 2874.1,
                2876.7, 2879.3, 2881.2]
BZ_NGK = [19.9, 31.2, 36.3, 36.9, 33.5, 34.0, 30.6, 27.8, 32.6, 48.2, 57.3, 55.3,
          51.6, 50.5, 54.5, 59.0, 59.6, 59.0, 61.0, 63.0, 59.0, 59.6, 55.3, 51.1,
          48.8, 45.4, 42.6, 46.8, 44.0, 45.4, 47.7, 44.0, 46.8, 49.6, 50.5, 51.6,
          51.1, 52.5, 48.2, 41.1, 38.3, 38.3, 39.7, 42.6, 45.4, 48.2, 49.6, 51.1,
          51.6, 54.5, 52.5, 53.3, 54.5, 55.3, 56.7, 57.3, 56.7, 57.3, 59.6, 63.0,
          61.0, 58.2, 49.6, 39.7, 31.2, 25.5, 19.3, 16.5, 17.6, 15.6, 16.2, 15.6,
          14.8, 18.4, 20.4, 22.1, 19.9, 23.3, 17.0, 19.9, 22.7, 17.0, 15.6, 17.0,
          21.3, 24.1, 35.5, 36.9, 38.3, 41.1, 36.3, 38.3, 36.9, 42.6, 29.8, 25.5,
          24.1, 22.1, 19.9, 17.6, 15.6, 14.2, 15.6, 19.9, 24.1, 19.9, 22.1, 25.5,
          22.7, 21.3, 23.3, 16.5, 15.6, 15.6, 14.2, 15.6, 15.6, 14.8, 13.6, 17.0,
          21.3, 20.4, 22.7, 28.4, 32.6, 36.9, 37.4, 39.7, 41.1, 44.8, 49.6, 54.5,
          62.4, 61.8, 61.0, 61.0, 59.6, 62.4, 65.2, 63.8, 65.2, 62.4, 64.7, 66.7,
          65.8, 64.7, 63.0, 62.4, 58.2, 53.9, 48.2, 46.8, 41.1, 36.9, 38.3, 32.6,
          25.5, 22.1, 19.9, 15.6, 14.2, 15.6, 14.8, 17.0, 18.4, 15.6, 12.8, 16.2,
          15.6, 18.4, 17.0, 19.3, 16.2, 15.6, 14.2, 17.0, 24.1, 28.4, 28.9, 28.4,
          30.6, 27.0, 28.4, 26.1, 29.8, 26.1, 24.1, 28.9, 22.7, 20.4, 21.3, 19.3,
          15.6, 14.8, 14.2, 14.8, 19.9, 16.5, 21.3, 21.3, 38.3, 41.1, 44.0, 51.1,
          52.5, 53.3, 49.6, 41.1, 44.0, 38.3, 31.2, 29.8, 21.3, 19.9, 16.5, 17.6,
          14.8, 12.8, 14.2, 13.6, 12.8, 11.3, 12.8, 12.5, 12.8, 12.5, 11.9, 11.9,
          13.6, 16.5, 18.4, 14.2, 19.9, 14.2, 17.0, 18.4, 15.6, 18.4, 17.0, 16.5,
          16.5, 15.6, 17.6, 14.2, 13.6, 14.8, 14.2, 17.6, 17.0, 19.9, 22.1, 27.0,
          31.8, 29.8, 31.8, 33.5, 27.0, 41.1, 28.4, 31.2, 29.8, 35.5, 32.6, 37.4,
          29.8, 39.7, 39.7, 35.5, 36.9, 32.6, 22.7, 20.4, 26.1, 19.3, 17.6, 16.5,
          15.6, 14.8, 14.2, 15.6, 14.8, 17.0, 16.5, 15.6, 17.6, 17.0, 14.8, 15.6,
          14.2, 15.6, 12.8]

X_TICKS = [2150, 2200, 2250, 2300, 2350, 2400, 2450, 2500, 2550, 2600, 2650, 2700, 2750, 2800, 2850, 2900]
UNIT = "имп/с"

# track: (title, number, depths, values, colour, y range, y step, minor y step)
TRACKS = [
    ("ГК", "1", GK_DEPTH, GK, "#ff0000", (0, 45), 15, 5),
    ("МЗ 2ГГК", "2", MZ_GGK_DEPTH, MZ_GGK, "#00b050", (2950, 3100), 50, 25),
    ("БЗ 2ГГК", "3", BZ_GGK_DEPTH, BZ_GGK, "#00b050", (100, 130), 10, 5),
    ("МЗ 2ННК", "4", MZ_NNK_DEPTH, MZ_NNK, "#0000ff", (0, 1500), 500, 250),
    ("БЗ 2ННК", "5", BZ_NNK_DEPTH, BZ_NNK, "#0000ff", (0, 200), 50, 10),
    ("МЗ 2НГК", "6", MZ_NGK_DEPTH, MZ_NGK, "#000000", (0, 200), 50, 10),
    ("БЗ 2НГК", "7", BZ_NGK_DEPTH, BZ_NGK, "#000000", (0, 80), 20, 10),
]

# ---------------------------------------------------------------- layout geometry (pixels)
W, H = 1521, 998
PLOT_LEFT, PLOT_RIGHT = 103, 1494
PLOT_BOXES = [(18.3, 126.7), (162.3, 271.0), (303.3, 412.3), (448.3, 556.7),
              (580.0, 688.3), (724.3, 832.3), (869.3, 963.3)]
TITLE_POS = [(423, 27), (458, 174), (458, 314), (451, 453), (447, 590), (453, 735), (451, 881)]
NUMBER_POS = [(1441, 53), (1439, 228), (1442, 338), (1437, 490), (1450, 632), (1445, 769), (1444, 915)]
SEPARATORS = [5, 149, 291, 434, 568, 711, 856]


def px_x(x):
    return x / W


def px_y(y):
    return 1 - y / H


FONT = "Liberation Sans, Arial, sans-serif"
GRID = "#a3a3a3"
AXIS = "#8c8c8c"

fig = go.Figure()
layout = dict(
    width=W, height=H,
    autosize=False,
    margin=dict(l=0, r=0, t=0, b=0, pad=0, autoexpand=False),
    paper_bgcolor="white", plot_bgcolor="white",
    showlegend=False,
    font=dict(family=FONT, color="#111111"),
)
annotations = []
shapes = []

n = len(TRACKS)
for i, (title, num, depth, vals, colour, yr, ystep, yminor) in enumerate(TRACKS):
    k = "" if i == 0 else str(i + 1)
    top, bottom = PLOT_BOXES[i]
    last = i == n - 1
    fig.add_trace(go.Scatter(
        x=depth, y=vals, mode="lines",
        line=dict(color=colour, width=2.7),
        xaxis="x" + k, yaxis="y" + k, hoverinfo="x+y",
    ))
    layout["xaxis" + k] = dict(
        domain=[px_x(PLOT_LEFT), px_x(PLOT_RIGHT)],
        anchor="y" + k,
        range=[2150, 2900],
        automargin=False,
        tickmode="array", tickvals=X_TICKS,
        showgrid=True, gridcolor=GRID, gridwidth=1.5,
        showline=True, linecolor=AXIS, linewidth=1.5, mirror=True,
        zeroline=False,
        showticklabels=last,
        ticks="outside" if last else "",
        ticklen=5, tickcolor=AXIS, tickwidth=1.2,
        tickfont=dict(family=FONT, size=18, color="#111111"),
        ticklabelstandoff=1,
        minor=dict(dtick=10, tick0=2150, ticks="outside", ticklen=4, tickcolor=AXIS,
                   showgrid=False) if last else dict(ticks=""),
    )
    layout["yaxis" + k] = dict(
        domain=[px_y(bottom), px_y(top)],
        anchor="x" + k,
        range=list(yr),
        automargin=False,
        tick0=yr[0], dtick=ystep,
        showgrid=True, gridcolor=GRID, gridwidth=1.5,
        showline=True, linecolor=AXIS, linewidth=1.5, mirror=True,
        zeroline=False,
        ticks="outside", ticklen=5, tickcolor=AXIS, tickwidth=1.2,
        tickfont=dict(family=FONT, size=18, color="#111111"),
        ticklabelstandoff=10,
        minor=dict(dtick=yminor, tick0=yr[0], ticks="outside", ticklen=3,
                   tickcolor=AXIS, showgrid=False),
    )
    # track title with white box over the grid
    tx, ty = TITLE_POS[i]
    annotations.append(dict(
        x=px_x(tx), y=px_y(ty), xref="paper", yref="paper",
        text="<b>%s</b>" % title, showarrow=False,
        font=dict(family=FONT, size=25, color="#000000"),
        bgcolor="white", borderpad=4, xanchor="center", yanchor="middle",
    ))
    # curve number
    nx, ny = NUMBER_POS[i]
    annotations.append(dict(
        x=px_x(nx), y=px_y(ny), xref="paper", yref="paper",
        text="<b><i>%s</i></b>" % num, showarrow=False,
        font=dict(family=FONT, size=22, color="#000000"),
        bgcolor="white", borderpad=3, xanchor="center", yanchor="middle",
    ))
    # unit label on the left
    annotations.append(dict(
        x=px_x(31), y=px_y((top + bottom) / 2 + 3), xref="paper", yref="paper",
        text=UNIT, showarrow=False, textangle=-90,
        font=dict(family=FONT, size=17, color="#111111"),
        xanchor="center", yanchor="middle",
    ))

# outer frame of the stacked panels
shapes.append(dict(type="rect", xref="paper", yref="paper",
                   x0=0, x1=px_x(12), y0=0, y1=1,
                   fillcolor="#f4f4f4", line=dict(width=0), layer="below"))
shapes.append(dict(type="line", xref="paper", yref="paper",
                   x0=px_x(12), x1=px_x(12), y0=0, y1=1,
                   line=dict(color="#a8a8a8", width=2)))
for j, yy in enumerate(SEPARATORS):
    shapes.append(dict(type="line", xref="paper", yref="paper",
                       x0=px_x(12), x1=1, y0=px_y(yy), y1=px_y(yy),
                       line=dict(color="#9a9a9a" if j == len(SEPARATORS) - 1 else "#b0b0b0",
                                 width=3 if j == len(SEPARATORS) - 1 else 2)))

layout["annotations"] = annotations
layout["shapes"] = shapes
fig.update_layout(**layout)

fig.write_html("out.html", config={"responsive": False})
